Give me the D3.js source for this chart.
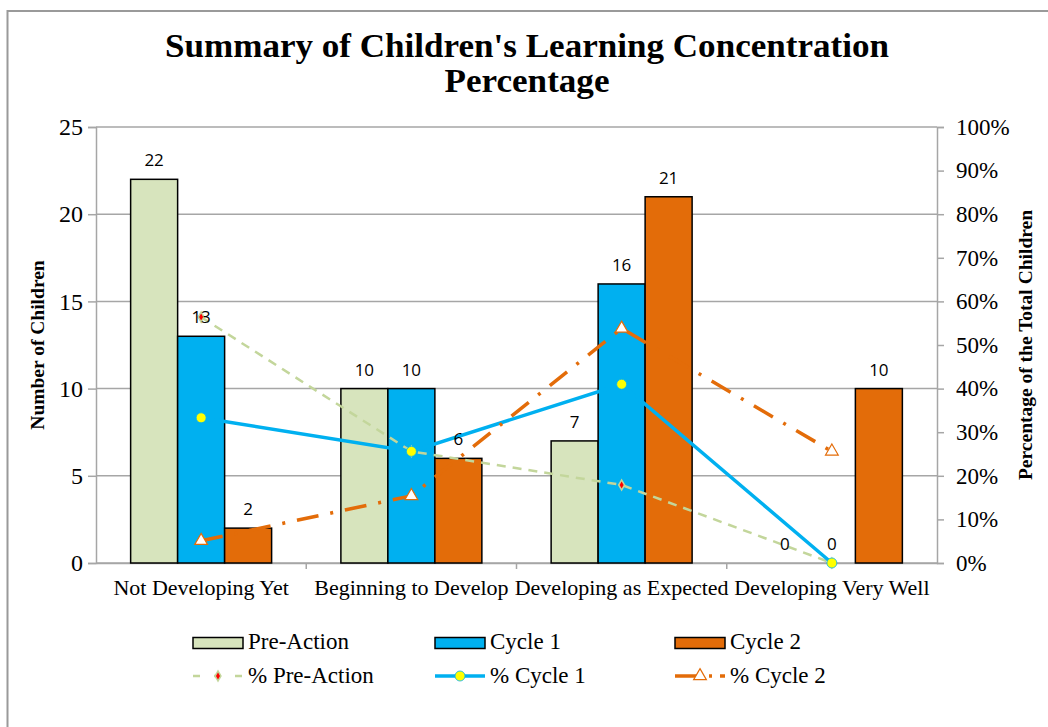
<!DOCTYPE html>
<html>
<head>
<meta charset="utf-8">
<script src="https://cdn.jsdelivr.net/npm/d3@7"></script>
<style>
  body { margin: 0; background: #fff; }
  svg { display: block; }
  .serif { font-family: "Liberation Serif", "Times New Roman", serif; }
</style>
</head>
<body>
<svg id="chart"></svg>
<script>
const categories = ["Not Developing Yet", "Beginning to Develop", "Developing as Expected", "Developing Very Well"];
const seriesNames = ["Pre-Action", "Cycle 1", "Cycle 2"];
const preAction = [22, 10, 7, 0];
const cycle1 = [13, 10, 16, 0];
const cycle2 = [2, 6, 21, 10];
const preActionPct = [56.4, 25.6, 17.9, 0];
const cycle1Pct = [33.3, 25.6, 41.0, 0];
const cycle2Pct = [5.1, 15.4, 53.8, 25.6];
const leftTicks = [0, 5, 10, 15, 20, 25];
const rightTicks = [0, 10, 20, 30, 40, 50, 60, 70, 80, 90, 100];

const width = 1048, height = 727;
const colors = { "Pre-Action": "#d7e4bd", "Cycle 1": "#00b0f0", "Cycle 2": "#e36c09" };
const pctColors = { "Pre-Action": "#c3d69b", "Cycle 1": "#00b0f0", "Cycle 2": "#e36c09" };

const svg = d3.select('#chart')
  .attr('width', width)
  .attr('height', height);

// outer frame (only top and left edges are visible)
svg.append('rect')
  .attr('x', 7.5).attr('y', 11)
  .attr('width', width + 20).attr('height', height + 20)
  .attr('fill', '#fff')
  .attr('stroke', '#9a9a9a')
  .attr('stroke-width', 2);

const plot = { left: 96, right: 937, top: 127, bottom: 563 };

const x = d3.scaleBand()
  .domain(categories)
  .range([plot.left, plot.right]);

const xSub = d3.scaleBand()
  .domain(seriesNames)
  .range([0, x.bandwidth()])
  .paddingOuter(0.737);

const y = d3.scaleLinear().domain([0, 25]).range([plot.bottom, plot.top]);
const yPct = d3.scaleLinear().domain([0, 100]).range([plot.bottom, plot.top]);

// gridlines
svg.append('g')
  .selectAll('line')
  .data(leftTicks)
  .join('line')
    .attr('x1', plot.left).attr('x2', plot.right)
    .attr('y1', d => y(d)).attr('y2', d => y(d))
    .attr('stroke', '#a6a6a6')
    .attr('stroke-width', 1.5);

// left axis
const leftAxis = svg.append('g')
  .attr('transform', `translate(${plot.left},0)`)
  .call(d3.axisLeft(y).tickValues(leftTicks).tickSize(8).tickPadding(5).tickFormat(d3.format('d')));
leftAxis.select('.domain').attr('stroke', '#a6a6a6').attr('stroke-width', 1.5);
leftAxis.selectAll('.tick line').attr('stroke', '#a6a6a6').attr('stroke-width', 1.5);
leftAxis.selectAll('.tick text')
  .attr('class', 'serif')
  .style('font-size', '24px')
  .attr('fill', '#000');

// right axis
const rightAxis = svg.append('g')
  .attr('transform', `translate(${plot.right},0)`)
  .call(d3.axisRight(yPct).tickValues(rightTicks).tickSize(7).tickPadding(12).tickFormat(d => d + '%'));
rightAxis.select('.domain').attr('stroke', '#a6a6a6').attr('stroke-width', 1.5);
rightAxis.selectAll('.tick line').attr('stroke', '#a6a6a6').attr('stroke-width', 1.5);
rightAxis.selectAll('.tick text')
  .attr('class', 'serif')
  .style('font-size', '23px')
  .attr('fill', '#000');

// bottom axis: category separators
const bottomAxis = svg.append('g')
  .attr('transform', `translate(0,${plot.bottom})`)
  .call(d3.axisBottom(x).tickSize(0).tickPadding(16));
bottomAxis.select('.domain').attr('stroke', '#a6a6a6').attr('stroke-width', 1.5);
bottomAxis.selectAll('.tick text')
  .attr('class', 'serif')
  .style('font-size', '22px')
  .attr('fill', '#000');
bottomAxis.append('g')
  .selectAll('line')
  .data(categories.slice(1))
  .join('line')
    .attr('x1', d => x(d)).attr('x2', d => x(d))
    .attr('y1', 0).attr('y2', 6)
    .attr('stroke', '#a6a6a6')
    .attr('stroke-width', 1.5);

// bars
const barData = seriesNames.map((s, si) => ({
  name: s,
  values: [preAction, cycle1, cycle2][si]
}));

const barGroups = svg.append('g')
  .selectAll('g')
  .data(barData)
  .join('g')
    .attr('fill', d => colors[d.name]);

barGroups.selectAll('rect')
  .data(d => d.values.map((v, i) => ({ name: d.name, cat: categories[i], value: v })))
  .join('rect')
    .filter(d => d.value > 0)
    .attr('x', d => x(d.cat) + xSub(d.name))
    .attr('y', d => y(d.value))
    .attr('width', xSub.bandwidth())
    .attr('height', d => y(0) - y(d.value))
    .attr('stroke', '#000')
    .attr('stroke-width', 1.5);

// percentage lines
const catCenter = c => x(c) + x.bandwidth() / 2;
const lineData = [
  { name: "Pre-Action", values: preActionPct, width: 2.5, dash: '9,7' },
  { name: "Cycle 1", values: cycle1Pct, width: 3.5, dash: null },
  { name: "Cycle 2", values: cycle2Pct, width: 3.5, dash: '22,12,3,12' }
];

const line = d3.line()
  .x((d, i) => catCenter(categories[i]))
  .y(d => yPct(d));

svg.append('g')
  .selectAll('path')
  .data(lineData)
  .join('path')
    .attr('d', d => line(d.values))
    .attr('fill', 'none')
    .attr('stroke', d => pctColors[d.name])
    .attr('stroke-width', d => d.width)
    .attr('stroke-dasharray', d => d.dash);

function drawMarker(g, name, cx, cy) {
  if (name === "Pre-Action") {
    g.append('path')
      .attr('d', d3.symbol(d3.symbolDiamond, 50)())
      .attr('transform', `translate(${cx},${cy})`)
      .attr('fill', '#c3d69b');
    g.append('path')
      .attr('d', d3.symbol(d3.symbolDiamond, 14)())
      .attr('transform', `translate(${cx},${cy})`)
      .attr('fill', '#ff0000');
  } else if (name === "Cycle 1") {
    g.append('circle')
      .attr('cx', cx).attr('cy', cy).attr('r', 5)
      .attr('fill', '#ffff00')
      .attr('stroke', '#00b0f0')
      .attr('stroke-width', 0.8);
  } else {
    g.append('path')
      .attr('d', d3.symbol(d3.symbolTriangle, 70)())
      .attr('transform', `translate(${cx},${cy})`)
      .attr('fill', '#fff')
      .attr('stroke', '#e36c09')
      .attr('stroke-width', 1.2);
  }
}

const markerLayer = svg.append('g');
lineData.forEach(s => {
  s.values.forEach((v, i) => drawMarker(markerLayer, s.name, catCenter(categories[i]), yPct(v)));
});

// bar data labels
svg.append('g')
  .selectAll('text')
  .data(barData.flatMap(d => d.values.map((v, i) => ({ name: d.name, cat: categories[i], value: v }))))
  .join('text')
    .attr('x', d => x(d.cat) + xSub(d.name) + xSub.bandwidth() / 2)
    .attr('y', d => y(d.value) - 13)
    .attr('text-anchor', 'middle')
    .style('font-family', '"Open Sans", "Liberation Sans", sans-serif')
    .style('font-size', '17px')
    .attr('fill', '#000')
    .text(d => d.value);

// title
const title = svg.append('text')
  .attr('class', 'serif')
  .attr('text-anchor', 'middle')
  .style('font-size', '33px')
  .style('font-weight', 'bold');
title.append('tspan').attr('x', 527).attr('y', 57)
  .attr('textLength', 724).attr('lengthAdjust', 'spacingAndGlyphs')
  .text("Summary of Children's Learning Concentration");
title.append('tspan').attr('x', 527).attr('y', 92)
  .attr('textLength', 165).attr('lengthAdjust', 'spacingAndGlyphs')
  .text("Percentage");

// axis titles
svg.append('text')
  .attr('class', 'serif')
  .attr('transform', `translate(44,${(plot.top + plot.bottom) / 2}) rotate(-90)`)
  .attr('text-anchor', 'middle')
  .style('font-size', '19.5px')
  .style('font-weight', 'bold')
  .text('Number of Children');

svg.append('text')
  .attr('class', 'serif')
  .attr('transform', `translate(1032,${(plot.top + plot.bottom) / 2}) rotate(-90)`)
  .attr('text-anchor', 'middle')
  .style('font-size', '19.5px')
  .style('font-weight', 'bold')
  .text('Percentage of the Total Children');

// legend
const legendX = [193, 435, 675];
const legend = svg.append('g');
seriesNames.forEach((s, i) => {
  const lx = legendX[i];
  legend.append('rect')
    .attr('x', lx).attr('y', 637.5).attr('width', 50).attr('height', 11)
    .attr('fill', colors[s])
    .attr('stroke', '#000')
    .attr('stroke-width', 1.5);
  legend.append('text')
    .attr('class', 'serif')
    .attr('x', lx + 55).attr('y', 649)
    .style('font-size', '23px')
    .text(s);

  const ld = lineData[i];
  legend.append('line')
    .attr('x1', lx).attr('x2', lx + 50)
    .attr('y1', 676).attr('y2', 676)
    .attr('stroke', pctColors[s])
    .attr('stroke-width', ld.width)
    .attr('stroke-dasharray', s === "Pre-Action" ? '7,14' : (s === "Cycle 2" ? '26,8,3,8' : null));
  drawMarker(legend, s, lx + 25, 676);
  legend.append('text')
    .attr('class', 'serif')
    .attr('x', lx + 55).attr('y', 683)
    .style('font-size', '23px')
    .text('% ' + s);
});
</script>
</body>
</html>
